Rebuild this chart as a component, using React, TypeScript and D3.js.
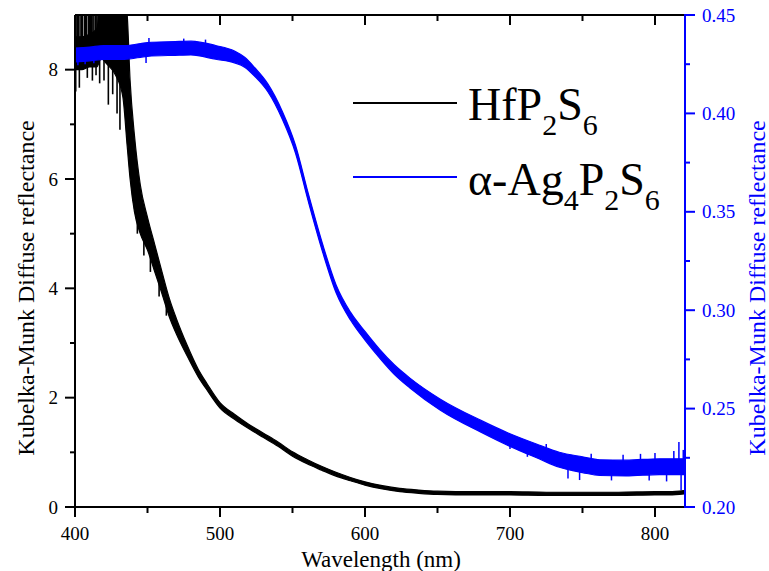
import React from 'react';
import * as d3 from 'd3';

const W = 769;
const H = 571;

// HfP2S6 (left axis)
const hfWl = [400, 405, 410, 415, 418, 422, 428, 433, 436, 438, 441, 445, 450, 455, 460, 465, 470, 477, 485, 491, 500, 510, 520, 530, 540, 550, 560, 570, 580, 590, 600, 612, 624, 637, 650, 675, 700, 725, 750, 775, 800, 810, 820];
const hfMid = [8.3, 8.3, 8.35, 8.4, 8.8, 9.0, 8.9, 8.5, 7.8, 6.9, 6.1, 5.45, 5.0, 4.55, 4.1, 3.65, 3.3, 2.88, 2.45, 2.2, 1.86, 1.65, 1.47, 1.31, 1.15, 0.97, 0.83, 0.71, 0.6, 0.51, 0.43, 0.36, 0.31, 0.28, 0.26, 0.25, 0.25, 0.24, 0.24, 0.24, 0.25, 0.25, 0.27];
const hfHalf = [0.3, 0.3, 0.3, 0.35, 0.6, 0.9, 1.0, 1.0, 1.2, 0.9, 0.7, 0.45, 0.3, 0.25, 0.2, 0.17, 0.14, 0.1, 0.07, 0.06, 0.05, 0.045, 0.04, 0.04, 0.04, 0.04, 0.04, 0.035, 0.035, 0.03, 0.03, 0.03, 0.03, 0.03, 0.03, 0.03, 0.03, 0.03, 0.03, 0.03, 0.03, 0.03, 0.03];
const hfSpikesUp = [400, 400.8, 401.6, 402.5, 403.5, 404.4, 405.2, 406.5, 407.3, 408, 409.2, 410, 410.8, 411.5, 412.3, 413, 414, 415, 415.8, 416.5, 417.3, 418];
const hfSpikesDown: [number, number, number][] = [
  [400.5, 8.3, 7.6], [403, 8.3, 7.67], [405.5, 8.3, 8.0], [408.5, 8.3, 7.85], [412, 8.35, 7.8], [414.5, 8.4, 7.9],
  [417, 8.6, 7.75], [420, 8.8, 7.8], [423, 8.9, 7.36], [426, 8.9, 7.55], [429, 8.8, 7.2], [431, 8.5, 6.9],
  [440, 6.4, 5.6], [443, 5.7, 5.0], [447.5, 5.2, 4.6], [452, 4.8, 4.3], [458, 4.3, 3.85], [463, 3.8, 3.5],
];

// alpha-Ag4P2S6 (right axis)
const agWl = [400, 410, 420, 434, 450, 469, 480, 497, 510, 517, 524, 533, 543, 552, 561, 571, 580, 590, 600, 610, 620, 631, 652, 680, 700, 720, 734, 750, 762, 780, 803, 820];
const agMid = [0.4297, 0.4302, 0.431, 0.431, 0.4325, 0.433, 0.4332, 0.431, 0.4287, 0.426, 0.421, 0.413, 0.399, 0.382, 0.357, 0.331, 0.311, 0.297, 0.287, 0.278, 0.27, 0.263, 0.252, 0.241, 0.234, 0.228, 0.224, 0.2215, 0.22, 0.2198, 0.2205, 0.2205];
const agHalf = [0.0035, 0.0035, 0.0035, 0.0035, 0.0035, 0.0035, 0.0035, 0.0035, 0.003, 0.0025, 0.0022, 0.002, 0.002, 0.002, 0.002, 0.002, 0.002, 0.002, 0.0022, 0.0022, 0.0024, 0.0025, 0.0028, 0.003, 0.0032, 0.0035, 0.0038, 0.004, 0.004, 0.004, 0.004, 0.004];
const agSpikes: [number, number, number][] = [
  [402, 0.43, 0.4245], [407, 0.43, 0.425], [413, 0.4305, 0.4255], [449, 0.4325, 0.4256], [451, 0.4325, 0.4383],
  [475, 0.433, 0.438], [490, 0.432, 0.4375], [700, 0.234, 0.2295], [712, 0.231, 0.2255], [725, 0.227, 0.232],
  [740, 0.223, 0.2145], [748, 0.222, 0.2137], [756, 0.221, 0.227], [770, 0.2198, 0.2135], [778, 0.2198, 0.2265],
  [790, 0.22, 0.227], [796, 0.22, 0.2135], [800, 0.2205, 0.2275], [808, 0.2205, 0.213], [813, 0.2205, 0.2285],
  [816.5, 0.2205, 0.233], [818, 0.2205, 0.2086], [819.5, 0.2205, 0.229],
];

const xMajor = [400, 500, 600, 700, 800];
const xMinor = [450, 550, 650, 750];
const yLeftMajor = [0, 2, 4, 6, 8];
const yLeftMinor = [1, 3, 5, 7];
const yRightMajor = [0.2, 0.25, 0.3, 0.35, 0.4, 0.45];
const yRightMinor = [0.225, 0.275, 0.325, 0.375, 0.425];

const xLabel = 'Wavelength (nm)';
const yLabel = 'Kubelka-Munk Diffuse reflectance';

const BLUE = '#0000ff';
const FF = "'Liberation Serif', 'Times New Roman', serif";
const CSS = "svg text, svg tspan { font-family: 'Liberation Serif', 'Times New Roman', serif !important; }";

export default function App() {
  const L = 75, R = 685, T = 15, B = 507;
  const x = d3.scaleLinear().domain([400, 820.7]).range([L, R]);
  const yL = d3.scaleLinear().domain([0, 9]).range([B, T]);
  const yR = d3.scaleLinear().domain([0.2, 0.45]).range([B, T]);

  const hfIdx = hfWl.map((_, i) => i);
  const agIdx = agWl.map((_, i) => i);

  const hfArea = d3.area<number>().x(i => x(hfWl[i])).y0(i => yL(hfMid[i] - hfHalf[i])).y1(i => yL(hfMid[i] + hfHalf[i])).curve(d3.curveMonotoneX)(hfIdx) || '';
  const hfLine = d3.line<number>().x(i => x(hfWl[i])).y(i => yL(hfMid[i])).curve(d3.curveMonotoneX)(hfIdx) || '';
  const agArea = d3.area<number>().x(i => x(agWl[i])).y0(i => yR(agMid[i] - agHalf[i])).y1(i => yR(agMid[i] + agHalf[i])).curve(d3.curveMonotoneX)(agIdx) || '';
  const agLine = d3.line<number>().x(i => x(agWl[i])).y(i => yR(agMid[i])).curve(d3.curveMonotoneX)(agIdx) || '';

  return (
    <svg width={W} height={H} style={{ position: 'absolute', left: 0, top: 0, background: '#fff' }} fontFamily={FF}>
      <style>{CSS}</style>
      <text x={381} y={567} textAnchor="middle" fontSize={23}><tspan>{xLabel}</tspan></text>
      <text transform={`translate(34,288) rotate(-90)`} textAnchor="middle" fontSize={24}><tspan>{yLabel}</tspan></text>
      <text transform={`translate(765,288) rotate(-90)`} textAnchor="middle" fontSize={24} fill={BLUE}><tspan>{yLabel}</tspan></text>
      {xMajor.map(v => (
        <text key={'xt' + v} x={x(v)} y={540} textAnchor="middle" fontSize={19}><tspan>{String(v)}</tspan></text>
      ))}
      {yLeftMajor.map(v => (
        <text key={'ylt' + v} x={58} y={yL(v) + 6.5} textAnchor="end" fontSize={19}><tspan>{String(v)}</tspan></text>
      ))}
      {yRightMajor.map(v => (
        <text key={'yrt' + v} x={702} y={yR(v) + 6.5} fontSize={19} fill={BLUE}><tspan>{v.toFixed(2)}</tspan></text>
      ))}

      <defs>
        <clipPath id="plotclip">
          <rect x={L} y={T} width={R - L} height={B - T} />
        </clipPath>
      </defs>
      <g clipPath="url(#plotclip)">
        <path d={hfArea} fill="#000" stroke="#000" strokeWidth={1.2} />
        <path d={hfLine} fill="none" stroke="#000" strokeWidth={2} />
        {hfSpikesUp.map((w, i) => (
          <line key={'u' + i} x1={x(w)} x2={x(w)} y1={yL(8.2)} y2={yL(9.6)} stroke="#000" strokeWidth={1.4} />
        ))}
        {hfSpikesDown.map((s, i) => (
          <line key={'d' + i} x1={x(s[0])} x2={x(s[0])} y1={yL(s[1])} y2={yL(s[2])} stroke="#000" strokeWidth={1.6} />
        ))}
        <path d={agArea} fill={BLUE} stroke={BLUE} strokeWidth={1.2} />
        <path d={agLine} fill="none" stroke={BLUE} strokeWidth={2} />
        {agSpikes.map((s, i) => (
          <line key={'b' + i} x1={x(s[0])} x2={x(s[0])} y1={yR(s[1])} y2={yR(s[2])} stroke={BLUE} strokeWidth={1.5} />
        ))}
      </g>

      <line x1={L} x2={R} y1={T} y2={T} stroke="#000" strokeWidth={2} />
      <line x1={L} x2={R} y1={B} y2={B} stroke="#000" strokeWidth={2} />
      <line x1={L} x2={L} y1={T} y2={B} stroke="#000" strokeWidth={2} />
      <line x1={R} x2={R} y1={T - 1} y2={B + 1} stroke={BLUE} strokeWidth={2} />

      {xMajor.map(v => (
        <g key={'xm' + v}>
          <line x1={x(v)} x2={x(v)} y1={B} y2={B + 10} stroke="#000" strokeWidth={2} />
          <line x1={x(v)} x2={x(v)} y1={T} y2={T + 10} stroke="#000" strokeWidth={2} />
        </g>
      ))}
      {xMinor.map(v => (
        <g key={'xn' + v}>
          <line x1={x(v)} x2={x(v)} y1={B} y2={B + 6} stroke="#000" strokeWidth={2} />
          <line x1={x(v)} x2={x(v)} y1={T} y2={T + 6} stroke="#000" strokeWidth={2} />
        </g>
      ))}
      {yLeftMajor.map(v => (
        <line key={'yl' + v} x1={L - 10} x2={L} y1={yL(v)} y2={yL(v)} stroke="#000" strokeWidth={2} />
      ))}
      {yLeftMinor.map(v => (
        <line key={'yln' + v} x1={L - 5} x2={L} y1={yL(v)} y2={yL(v)} stroke="#000" strokeWidth={2} />
      ))}
      {yRightMajor.map(v => (
        <line key={'yr' + v} x1={R} x2={R + 10} y1={yR(v)} y2={yR(v)} stroke={BLUE} strokeWidth={2} />
      ))}
      {yRightMinor.map(v => (
        <line key={'yrn' + v} x1={R} x2={R + 5} y1={yR(v)} y2={yR(v)} stroke={BLUE} strokeWidth={2} />
      ))}

      <line x1={353} x2={457} y1={103} y2={103} stroke="#000" strokeWidth={2} />
      <text x={468} y={120} fontSize={46}>
        HfP<tspan fontSize={30} dy={15}>2</tspan><tspan dy={-15}>S</tspan><tspan fontSize={30} dy={15}>6</tspan>
      </text>
      <line x1={353} x2={457} y1={177} y2={177} stroke={BLUE} strokeWidth={2} />
      <text x={468} y={195} fontSize={46}>
        α-Ag<tspan fontSize={30} dy={15}>4</tspan><tspan dy={-15}>P</tspan><tspan fontSize={30} dy={15}>2</tspan><tspan dy={-15}>S</tspan><tspan fontSize={30} dy={15}>6</tspan>
      </text>
    </svg>
  );
}
